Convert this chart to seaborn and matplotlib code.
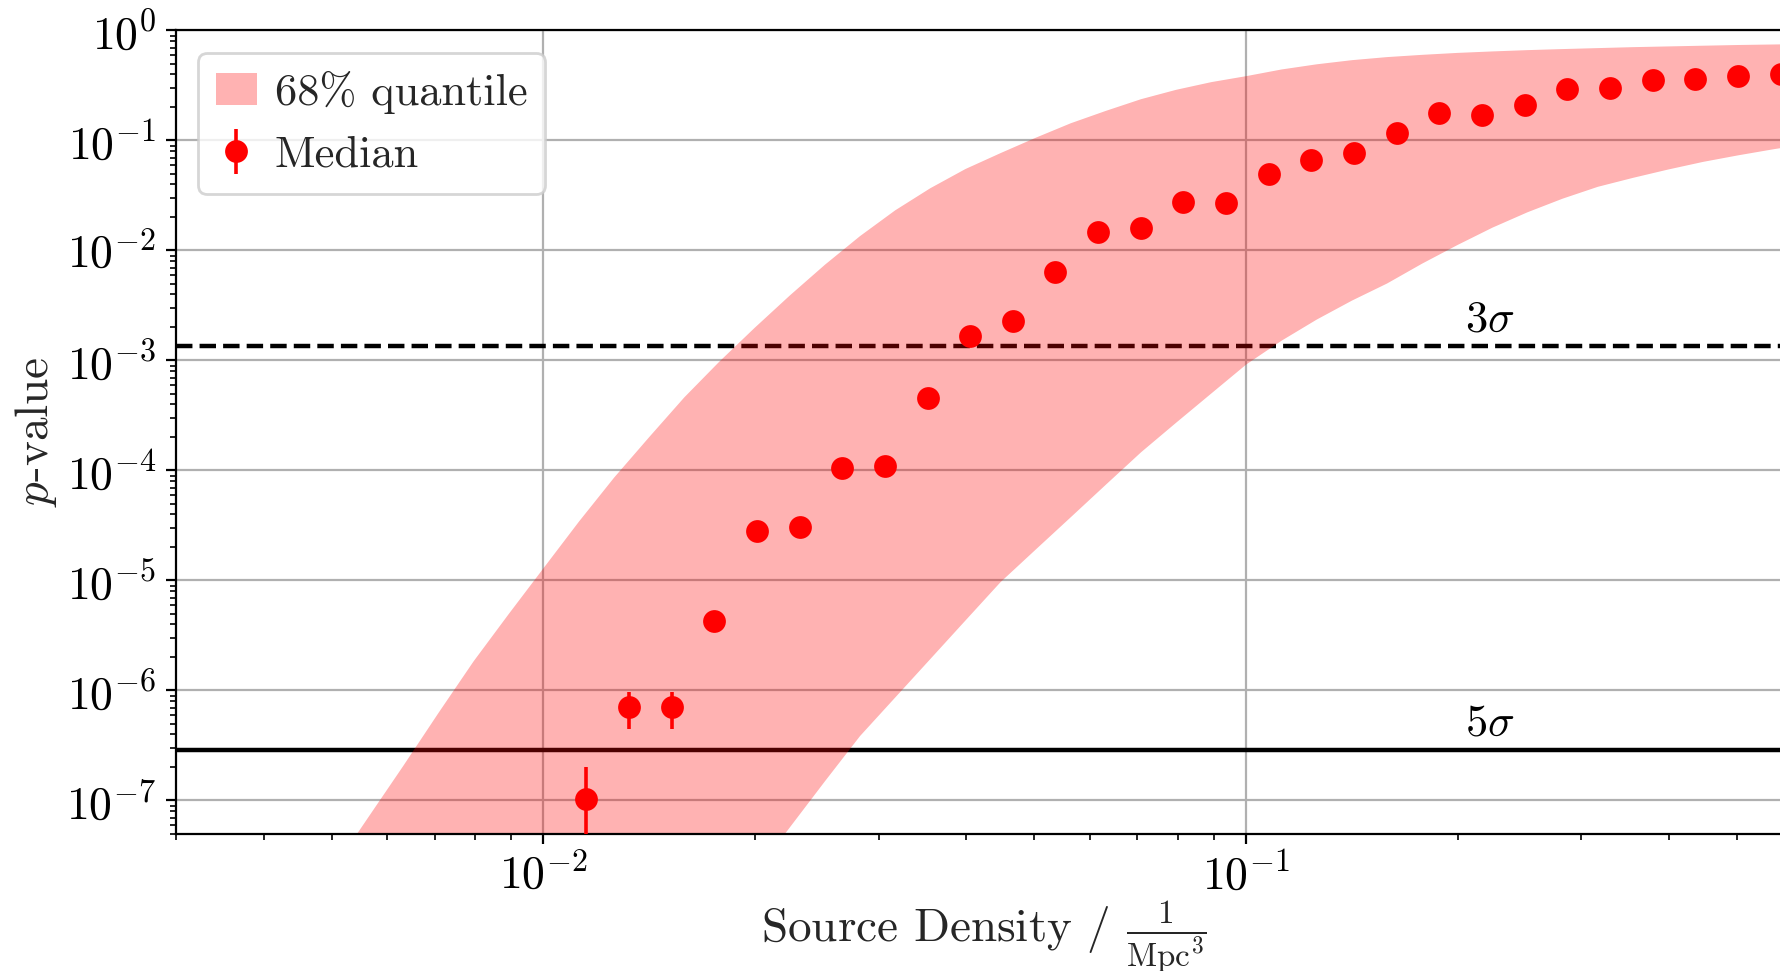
import matplotlib
matplotlib.use("Agg")
import numpy as np
import matplotlib.pyplot as plt
from matplotlib.ticker import FuncFormatter, LogLocator, NullFormatter
import seaborn as sns

# Median p-value per source density, with error-bar ends
density = [0.01151, 0.01323, 0.01523, 0.01751, 0.02014, 0.02316, 0.02663, 0.03062,
           0.03522, 0.04050, 0.04658, 0.05356, 0.06160, 0.07084, 0.08147, 0.09369,
           0.1077, 0.1239, 0.1425, 0.1639, 0.1885, 0.2168, 0.2493, 0.2867,
           0.3296, 0.3791, 0.4360, 0.5013, 0.5766]
p_median = [1.03e-7, 7.1e-7, 7.1e-7, 4.28e-6, 2.84e-5, 3.07e-5, 1.05e-4, 1.10e-4,
            4.53e-4, 1.67e-3, 2.30e-3, 6.33e-3, 1.48e-2, 1.60e-2, 2.74e-2, 2.69e-2,
            4.96e-2, 6.65e-2, 7.64e-2, 0.118, 0.179, 0.172, 0.209, 0.294,
            0.302, 0.352, 0.360, 0.386, 0.400]
p_low = [2.0e-8, 4.43e-7, 4.43e-7, 4.28e-6, 2.84e-5, 3.07e-5, 1.05e-4, 1.10e-4,
         4.53e-4, 1.67e-3, 2.30e-3, 6.33e-3, 1.48e-2, 1.60e-2, 2.74e-2, 2.69e-2,
         4.96e-2, 6.65e-2, 7.64e-2, 0.118, 0.179, 0.172, 0.209, 0.294,
         0.302, 0.352, 0.360, 0.386, 0.400]
p_high = [2.03e-7, 9.75e-7, 9.75e-7, 4.28e-6, 2.84e-5, 3.07e-5, 1.05e-4, 1.10e-4,
          4.53e-4, 1.67e-3, 2.30e-3, 6.33e-3, 1.48e-2, 1.60e-2, 2.74e-2, 2.69e-2,
          4.96e-2, 6.65e-2, 7.64e-2, 0.118, 0.179, 0.172, 0.209, 0.294,
          0.302, 0.352, 0.360, 0.386, 0.400]

# 68% quantile band (values below the plotted range are floored at 1e-8)
band_density = [0.005012, 0.005623, 0.006310, 0.007079, 0.007943, 0.008913, 0.01,
                0.01122, 0.01259, 0.01413, 0.01585, 0.01778, 0.01995, 0.02239,
                0.02512, 0.02818, 0.03162, 0.03548, 0.03981, 0.04467, 0.05012,
                0.05623, 0.06310, 0.07079, 0.07943, 0.08913, 0.1, 0.1122,
                0.1259, 0.1413, 0.1585, 0.1778, 0.1995, 0.2239, 0.2512,
                0.2818, 0.3162, 0.3548, 0.3981, 0.4467, 0.5012, 0.5623, 0.6310]
band_upper = [2.40e-8, 7.08e-8, 2.09e-7, 6.31e-7, 1.86e-6, 5.01e-6, 1.32e-5,
              3.47e-5, 8.71e-5, 2.04e-4, 4.68e-4, 9.89e-4, 2.00e-3, 3.94e-3,
              7.50e-3, 1.365e-2, 2.34e-2, 3.72e-2, 5.56e-2, 7.76e-2, 0.107,
              0.145, 0.188, 0.240, 0.292, 0.343, 0.389, 0.447,
              0.498, 0.543, 0.579, 0.607, 0.632, 0.652, 0.670,
              0.685, 0.699, 0.713, 0.724, 0.735, 0.746, 0.754, 0.762]
band_lower = [1e-8, 1e-8, 1e-8, 1e-8, 1e-8, 1e-8, 1e-8,
              1e-8, 1e-8, 1e-8, 1e-8, 1e-8, 2.19e-8, 5.75e-8,
              1.51e-7, 3.89e-7, 8.71e-7, 1.95e-6, 4.37e-6, 9.77e-6, 1.93e-5,
              3.80e-5, 7.52e-5, 1.48e-4, 2.75e-4, 5.07e-4, 9.33e-4, 1.53e-3,
              2.38e-3, 3.54e-3, 5.06e-3, 7.67e-3, 1.13e-2, 1.63e-2, 2.25e-2,
              2.99e-2, 3.83e-2, 4.62e-2, 5.50e-2, 6.46e-2, 7.41e-2, 8.41e-2, 9.44e-2]

# Significance thresholds
thresholds = [1.35e-3, 2.87e-7]
threshold_labels = [r"$3\sigma$", r"$5\sigma$"]
threshold_styles = ["--", "-"]

sns.set_theme(style="ticks")
plt.rcParams.update({
    "font.family": "serif",
    "font.serif": ["cmr10"],
    "mathtext.fontset": "cm",
    "axes.formatter.use_mathtext": True,
    "axes.edgecolor": "black",
    "axes.linewidth": 0.8,
    "xtick.color": "black",
    "ytick.color": "black",
    "xtick.major.size": 3.5,
    "ytick.major.size": 3.5,
    "xtick.minor.size": 2.0,
    "ytick.minor.size": 2.0,
    "xtick.major.width": 0.8,
    "ytick.major.width": 0.8,
    "xtick.minor.width": 0.6,
    "ytick.minor.width": 0.6,
    "xtick.major.pad": 3.5,
    "ytick.major.pad": 3.5,
    "xtick.direction": "out",
    "ytick.direction": "out",
})

fig = plt.figure(figsize=(8.905, 4.855), dpi=200)
ax = fig.add_axes([0.0988, 0.1415, 0.9078, 0.8271])
ax.set_xscale("log")
ax.set_yscale("log")

for val, ls in zip(thresholds, threshold_styles):
    ax.axhline(val, color="black", ls=ls, lw=1.6, zorder=2)

band = ax.fill_between(band_density, band_lower, band_upper, color="red",
                       alpha=0.3, lw=0, zorder=2.5, label="68% quantile")

d = np.array(density)
m = np.array(p_median)
yerr = [m - np.array(p_low), np.array(p_high) - m]
med = ax.errorbar(d, m, yerr=yerr, fmt="o", color="red", ms=7.2,
                  elinewidth=1.3, capsize=0, zorder=4, label="Median")

for val, lab in zip(thresholds, threshold_labels):
    ax.text(0.205, val * 1.35, lab, fontsize=16, ha="left", va="baseline",
            color="black")

ax.set_xlim(3e-3, 0.6)
ax.set_ylim(5e-8, 1.0)

fmt = FuncFormatter(lambda v, pos: r"$10^{%d}$" % int(round(np.log10(v))))
ax.xaxis.set_major_formatter(fmt)
ax.yaxis.set_major_formatter(fmt)
ax.xaxis.set_minor_formatter(NullFormatter())
ax.yaxis.set_minor_formatter(NullFormatter())
ax.yaxis.set_major_locator(LogLocator(base=10, numticks=20))
ax.yaxis.set_minor_locator(LogLocator(base=10, subs=np.arange(2, 10), numticks=20))
ax.tick_params(axis="both", which="major", labelsize=16.5)

ax.grid(True, which="major", color="#b0b0b0", lw=0.8)
ax.set_axisbelow(True)

ax.set_xlabel(r"Source Density / $\frac{1}{\mathrm{Mpc}^3}$", fontsize=17,
              labelpad=0.5)
ax.set_ylabel(r"$p$-value", fontsize=17, labelpad=2.5)

ax.legend(handles=[band, med], labels=["68% quantile", "Median"],
          loc="upper left", fontsize=16, frameon=True, fancybox=True,
          framealpha=0.8, edgecolor="0.8", handlelength=0.92,
          handletextpad=0.4)

fig.savefig("out.png", dpi=200)
